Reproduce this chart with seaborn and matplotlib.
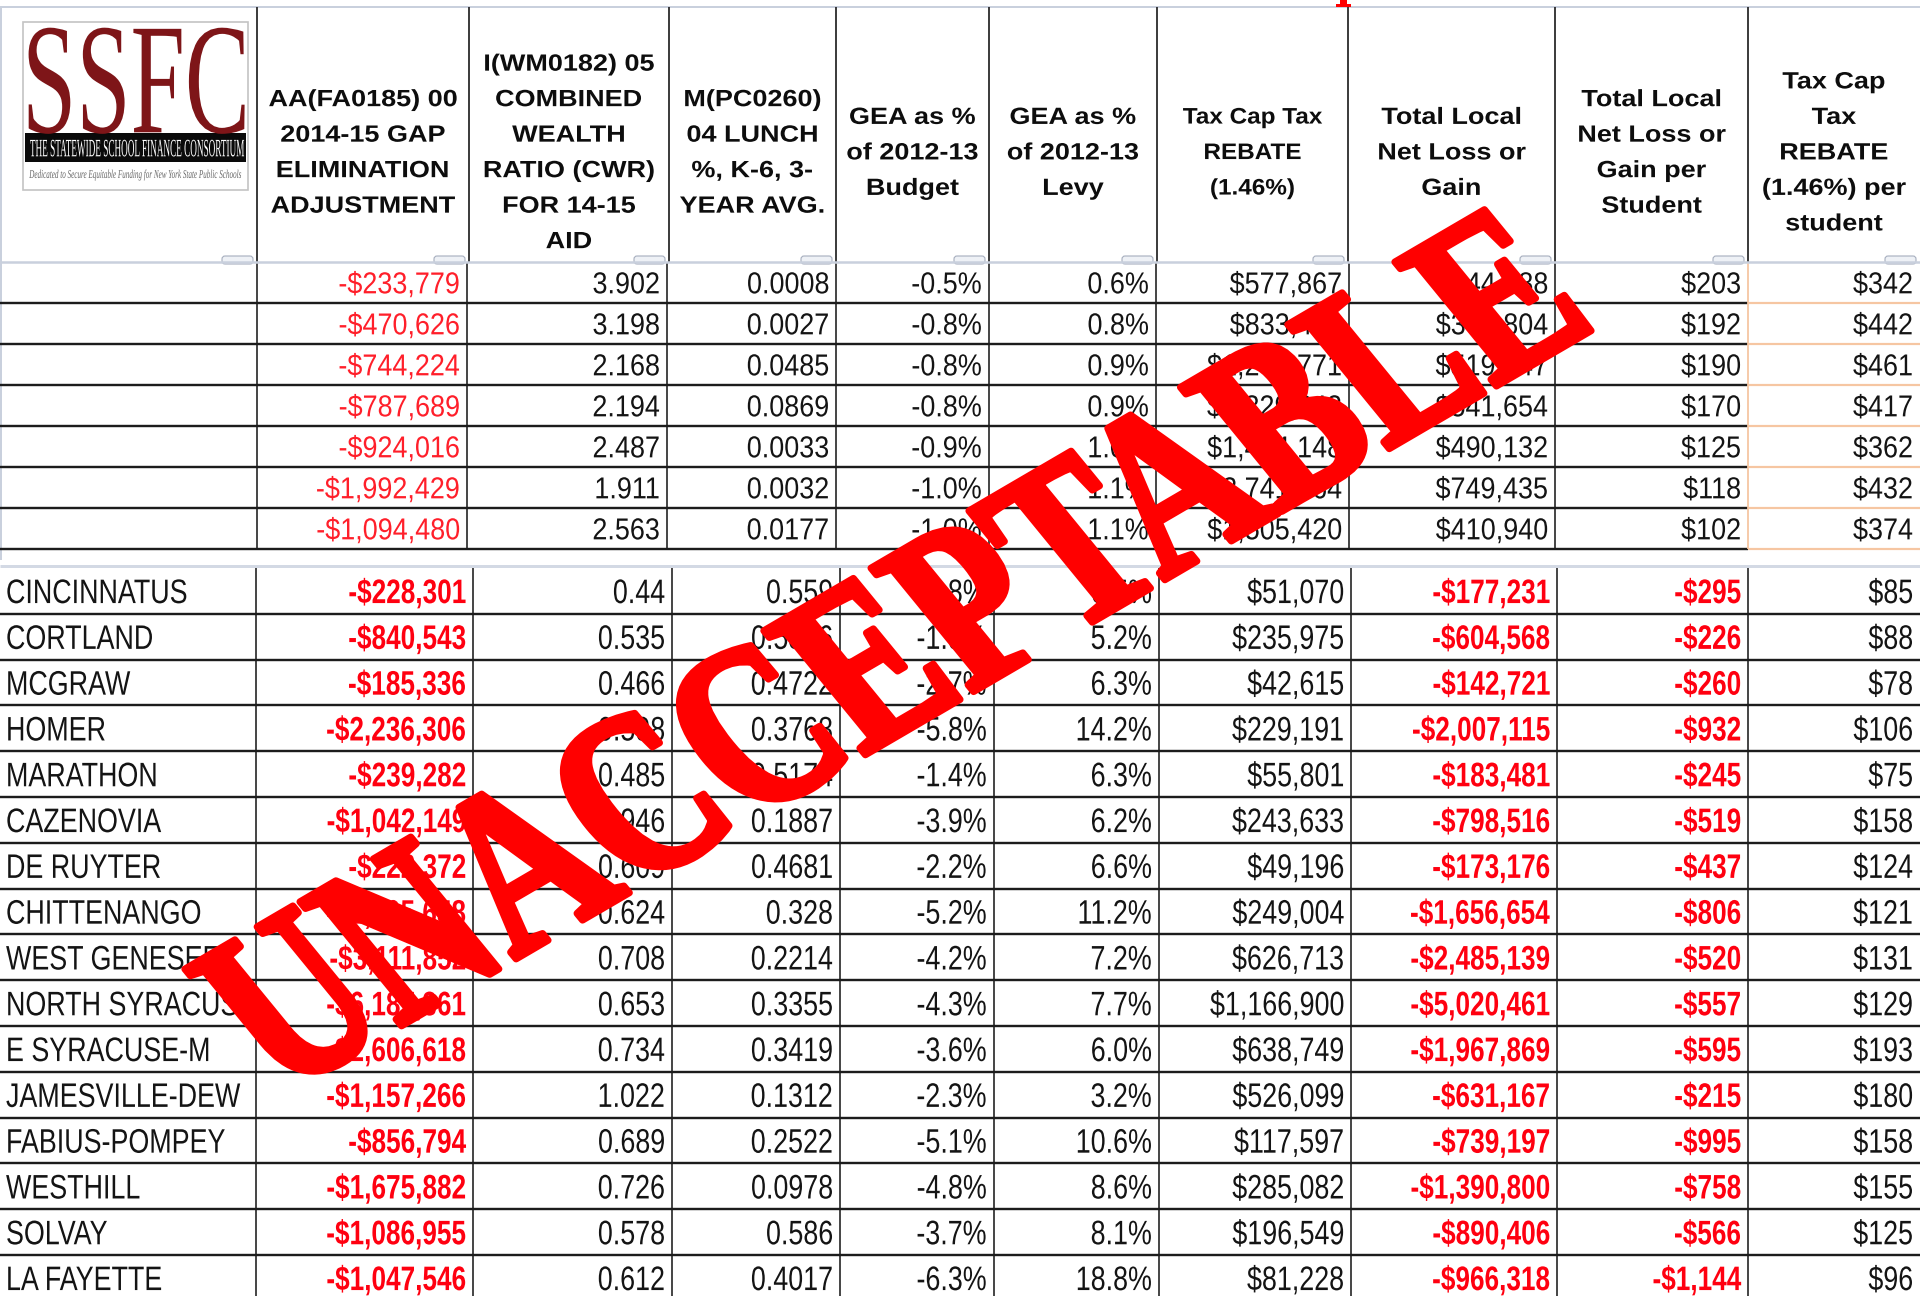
import matplotlib
matplotlib.use("Agg")
import matplotlib.pyplot as plt
import matplotlib.text as mtext
import seaborn as sns
import pandas as pd
from matplotlib.patheffects import AbstractPathEffect
from matplotlib.transforms import Affine2D, Bbox
from matplotlib.patches import Rectangle, FancyBboxPatch
from matplotlib.textpath import TextPath
from matplotlib.font_manager import FontProperties

# ---------------- data ----------------
header_lines = [
    [],
    ["AA(FA0185) 00", "2014-15 GAP", "ELIMINATION", "ADJUSTMENT"],
    ["I(WM0182) 05", "COMBINED", "WEALTH", "RATIO (CWR)", "FOR 14-15", "AID"],
    ["M(PC0260)", "04 LUNCH", "%, K-6, 3-", "YEAR AVG."],
    ["GEA as %", "of 2012-13", "Budget"],
    ["GEA as %", "of 2012-13", "Levy"],
    ["Tax Cap Tax", "REBATE", "(1.46%)"],
    ["Total Local", "Net Loss or", "Gain"],
    ["Total Local", "Net Loss or", "Gain per", "Student"],
    ["Tax Cap", "Tax", "REBATE", "(1.46%) per", "student"],
]

upper_gea = [-233779, -470626, -744224, -787689, -924016, -1992429, -1094480]
upper_cwr = [3.902, 3.198, 2.168, 2.194, 2.487, 1.911, 2.563]
upper_lunch = [0.0008, 0.0027, 0.0485, 0.0869, 0.0033, 0.0032, 0.0177]
upper_budget = [-0.5, -0.8, -0.8, -0.8, -0.9, -1.0, -1.0]
upper_levy = [0.6, 0.8, 0.9, 0.9, 1.0, 1.1, 1.1]
upper_rebate = [577867, 833430, 1263771, 1329343, 1414148, 2741864, 1505420]
upper_net = [344088, 362804, 519547, 541654, 490132, 749435, 410940]
upper_net_ps = [203, 192, 190, 170, 125, 118, 102]
upper_rebate_ps = [342, 442, 461, 417, 362, 432, 374]

districts = ["CINCINNATUS", "CORTLAND", "MCGRAW", "HOMER", "MARATHON", "CAZENOVIA",
             "DE RUYTER", "CHITTENANGO", "WEST GENESEE", "NORTH SYRACUSE",
             "E SYRACUSE-M", "JAMESVILLE-DEW", "FABIUS-POMPEY", "WESTHILL",
             "SOLVAY", "LA FAYETTE"]
lower_gea = [-228301, -840543, -185336, -2236306, -239282, -1042149, -222372, -1905658,
             -3111852, -6187361, -2606618, -1157266, -856794, -1675882, -1086955, -1047546]
lower_cwr = [0.44, 0.535, 0.466, 0.598, 0.485, 0.946, 0.609, 0.624,
             0.708, 0.653, 0.734, 1.022, 0.689, 0.726, 0.578, 0.612]
lower_lunch = [0.559, 0.5366, 0.4722, 0.3768, 0.5174, 0.1887, 0.4681, 0.328,
               0.2214, 0.3355, 0.3419, 0.1312, 0.2522, 0.0978, 0.586, 0.4017]
lower_budget = [-1.8, -1.9, -2.7, -5.8, -1.4, -3.9, -2.2, -5.2,
                -4.2, -4.3, -3.6, -2.3, -5.1, -4.8, -3.7, -6.3]
lower_levy = [6.5, 5.2, 6.3, 14.2, 6.3, 6.2, 6.6, 11.2,
              7.2, 7.7, 6.0, 3.2, 10.6, 8.6, 8.1, 18.8]
lower_rebate = [51070, 235975, 42615, 229191, 55801, 243633, 49196, 249004,
                626713, 1166900, 638749, 526099, 117597, 285082, 196549, 81228]
lower_net = [-177231, -604568, -142721, -2007115, -183481, -798516, -173176, -1656654,
             -2485139, -5020461, -1967869, -631167, -739197, -1390800, -890406, -966318]
lower_net_ps = [-295, -226, -260, -932, -245, -519, -437, -806,
                -520, -557, -595, -215, -995, -758, -566, -1144]
lower_rebate_ps = [85, 88, 78, 106, 75, 158, 124, 121,
                   131, 129, 193, 180, 158, 155, 125, 96]

stamp_text = "UNACCEPTABLE"
logo_title = "SSFC"
logo_band = "THE STATEWIDE SCHOOL FINANCE CONSORTIUM"
logo_tag = "Dedicated to Secure Equitable Funding for New York State Public Schools"


def money(v):
    return f"-${abs(v):,}" if v < 0 else f"${v:,}"


def pct(v):
    return f"{v:.1f}%"


def num(v):
    return f"{v:g}"


upper = pd.DataFrame({
    "gea": [money(v) for v in upper_gea], "cwr": [num(v) for v in upper_cwr],
    "lunch": [num(v) for v in upper_lunch], "budget": [pct(v) for v in upper_budget],
    "levy": [pct(v) for v in upper_levy], "rebate": [money(v) for v in upper_rebate],
    "net": [money(v) for v in upper_net], "net_ps": [money(v) for v in upper_net_ps],
    "rebate_ps": [money(v) for v in upper_rebate_ps]})
lower = pd.DataFrame({
    "name": districts,
    "gea": [money(v) for v in lower_gea], "cwr": [num(v) for v in lower_cwr],
    "lunch": [num(v) for v in lower_lunch], "budget": [pct(v) for v in lower_budget],
    "levy": [pct(v) for v in lower_levy], "rebate": [money(v) for v in lower_rebate],
    "net": [money(v) for v in lower_net], "net_ps": [money(v) for v in lower_net_ps],
    "rebate_ps": [money(v) for v in lower_rebate_ps]})

# ---------------- style / layout ----------------
sns.set_theme(style="white")
plt.rcParams['font.family'] = ['Liberation Sans', 'DejaVu Sans']
SANS = ['Liberation Sans', 'DejaVu Sans']
SERIF = ['Liberation Serif', 'DejaVu Serif']
DPI = 100
W, H = 1920, 1296

fig = plt.figure(figsize=(W / DPI, H / DPI), dpi=DPI, facecolor='white')
ax = fig.add_axes([0, 0, 1, 1])
ax.set_xlim(0, W)
ax.set_ylim(H, 0)
ax.axis('off')


class Stretch(AbstractPathEffect):
    """Scale glyphs about an anchor point (mimics the condensed / stretched type)."""
    def __init__(self, axes, x, y, sx, sy=1.0):
        super().__init__()
        self.axes_, self.x, self.y, self.sx, self.sy = axes, x, y, sx, sy

    def draw_path(self, renderer, gc, tpath, affine, rgbFace=None):
        cx, cy = self.axes_.transData.transform((self.x, self.y))
        t = affine + Affine2D().translate(-cx, -cy).scale(self.sx, self.sy).translate(cx, cy)
        renderer.draw_path(gc, tpath, t, rgbFace)


class SText(mtext.Text):
    """Text whose reported extent follows the glyph stretch."""
    def __init__(self, x, y, s, anchor=(0, 0), sx=1.0, sy=1.0, **kw):
        super().__init__(x, y, s, **kw)
        self._anc, self._sx, self._sy = anchor, sx, sy

    def get_window_extent(self, renderer=None, dpi=None):
        bb = super().get_window_extent(renderer, dpi)
        cx, cy = self.axes.transData.transform(self._anc)
        return Bbox([[cx + (bb.x0 - cx) * self._sx, cy + (bb.y0 - cy) * self._sy],
                     [cx + (bb.x1 - cx) * self._sx, cy + (bb.y1 - cy) * self._sy]])


class Stamp(AbstractPathEffect):
    """Stretch / backslant the glyphs in text space and embolden with a stroke."""
    def __init__(self, center, sx, sy, shear, lw, color):
        super().__init__()
        self.c, self.sx, self.sy, self.shear, self.lw, self.color = center, sx, sy, shear, lw, color

    def draw_path(self, renderer, gc, tpath, affine, rgbFace=None):
        cx, cy = self.c
        local = (Affine2D().translate(-cx, -cy).scale(self.sx, self.sy)
                 .skew_deg(self.shear, 0).translate(cx, cy))
        gc0 = renderer.new_gc()
        gc0.copy_properties(gc)
        gc0.set_linewidth(self.lw)
        gc0.set_foreground(self.color)
        gc0.set_joinstyle('round')
        renderer.draw_path(gc0, tpath, local + affine, rgbFace)
        gc0.restore()


def put(x, yc, s, ev, sx=1.0, ha='right', color='#141414', weight='normal',
        family=SANS, style='normal', cap=0.716, clip=None, z=3):
    """ev: visual em height (px); sx: horizontal scale relative to the font."""
    if sx < 1:
        fpx, kx, ky = ev * sx, 1.0, 1.0 / sx
    else:
        fpx, kx, ky = ev, sx, 1.0
    yb = yc + cap * fpx / 2
    t = SText(x, yb, s, anchor=(x, yc), sx=kx, sy=ky, fontsize=fpx * 72 / DPI, ha=ha,
              va='baseline', color=color, fontweight=weight, family=family,
              fontstyle=style, zorder=z)
    ax.add_artist(t)
    t.set_path_effects([Stretch(ax, x, yc, kx, ky)])
    if clip is not None:
        t.set_clip_path(clip)
    return t


def ink_box(s, size, family, weight='normal', style='normal'):
    fp = FontProperties(family=family, weight=weight, style=style)
    return TextPath((0, 0), s, size=size, prop=fp).get_extents()


def hline(y, x0, x1, color, lw_px, z=2):
    ax.plot([x0, x1], [y, y], color=color, lw=lw_px * 72 / DPI, solid_capstyle='butt', zorder=z)


def vline(x, y0, y1, color, lw_px, z=2):
    ax.plot([x, x], [y0, y1], color=color, lw=lw_px * 72 / DPI, solid_capstyle='butt', zorder=z)


hdr_edges = [0, 257, 469, 669, 836, 989, 1157, 1348, 1555, 1748, 1920]
up_edges = [0, 257, 467, 667, 836, 989, 1156, 1349, 1555, 1748, 1920]
lo_edges = [0, 256, 473, 672, 840, 994, 1159, 1351, 1557, 1748, 1920]
HDR_TOP, HDR_BOT = 7, 262
UP_TOP, UP_H = 262, 41.0
LO_TOP, LO_H = 568, 45.8
LIGHT = '#C9D0DD'
DARK = '#1c1c1c'
ORANGE = '#F6C6A2'
RED_UP = '#FF1F2A'
RED_LO = '#FF0010'

# ---------------- header ----------------
hline(HDR_TOP, 0, W, LIGHT, 2)
vline(1, HDR_TOP, 560, LIGHT, 2)
for x in hdr_edges[1:-1]:
    vline(x, HDR_TOP, HDR_BOT, '#2a2a2a', 1.8)
for x in hdr_edges[1:]:
    ax.add_patch(FancyBboxPatch((x - 35, 256), 31, 8, boxstyle="round,pad=0,rounding_size=3",
                                fc='#EEF1F6', ec='#A6AEBE', lw=0.8, zorder=2))
hline(HDR_BOT, 0, W, LIGHT, 2.5, z=2.5)

pitch = 35.5
for c, lines in enumerate(header_lines):
    if not lines:
        continue
    xc = (hdr_edges[c] + hdr_edges[c + 1]) / 2
    n = len(lines)
    ev, sx = (22.5, 1.08) if c == 6 else (23.5, 1.15)
    for i, s in enumerate(lines):
        yc = 151 + (i - (n - 1) / 2) * pitch
        put(xc, yc, s, ev, sx, ha='center', weight='bold', color='#0d0d0d')

# logo
ax.add_patch(Rectangle((23, 22), 225, 168, fc='white', ec='#C4C4C4', lw=1.2, zorder=2))
ax.add_patch(Rectangle((25, 133), 221, 29, fc='#0a0a0a', ec='none', zorder=2.5))
ev_t = 158
sx_t = 216 / ink_box(logo_title, ev_t, SERIF).width
put(136, 80, logo_title, ev_t, sx_t, ha='center', color='#7E1518', family=SERIF, cap=0.662)
ev_b = 25
sx_b = 214 / ink_box(logo_band, ev_b, SERIF).width
put(136, 148, logo_band, ev_b, sx_b, ha='center', color='white', family=SERIF, cap=0.662)
ev_g = 12
sx_g = 212 / ink_box(logo_tag, ev_g, SERIF, style='italic').width
put(136, 174, logo_tag, ev_g, sx_g, ha='center', color='#666666', family=SERIF,
    style='italic', cap=0.662)

# ---------------- upper block ----------------
n_up = len(upper)
up_bot = UP_TOP + n_up * UP_H
for k in range(1, n_up + 1):
    y = UP_TOP + k * UP_H
    hline(y, 0, 1748, DARK, 2.4)
    hline(y, 1748, W, ORANGE, 2.2)
for x in up_edges[1:-2]:
    vline(x, UP_TOP, up_bot, DARK, 1.6)
vline(up_edges[-2], UP_TOP, up_bot, ORANGE, 1.8)

up_cols = ["gea", "cwr", "lunch", "budget", "levy", "rebate", "net", "net_ps", "rebate_ps"]
for i in range(n_up):
    yc = UP_TOP + (i + 0.5) * UP_H
    for j, col in enumerate(up_cols):
        xr = up_edges[j + 2] - 7
        color = RED_UP if col == "gea" else '#141414'
        put(xr, yc, upper[col][i], 30.3, 0.89, ha='right', color=color)

# ---------------- lower block ----------------
hline(566, 0, W, '#D3D9E4', 3)
n_lo = len(lower)
for k in range(1, n_lo + 1):
    hline(LO_TOP + k * LO_H, 0, W, DARK, 2.4)
for x in lo_edges[1:-1]:
    vline(x, LO_TOP, H, DARK, 1.6)

lo_cols = ["gea", "cwr", "lunch", "budget", "levy", "rebate", "net", "net_ps", "rebate_ps"]
bold_red = {"gea", "net", "net_ps"}
for i in range(n_lo):
    yc = LO_TOP + (i + 0.5) * LO_H
    clip = Rectangle((0, LO_TOP + i * LO_H), lo_edges[1] - 2, LO_H, transform=ax.transData)
    put(6, yc, lower["name"][i], 34.0, 0.79, ha='left', clip=clip)
    for j, col in enumerate(lo_cols):
        xr = lo_edges[j + 2] - 7
        if col in bold_red:
            put(xr, yc, lower[col][i], 34.0, 0.77, ha='right', color=RED_LO, weight='bold')
        else:
            put(xr, yc, lower[col][i], 34.0, 0.79, ha='right')

# ---------------- stamp overlay ----------------
ax.add_patch(Rectangle((1340, 0), 7, 6, fc='#FF0000', ec='none', zorder=9))
ax.add_patch(Rectangle((1336, 4), 15, 3, fc='#FF0000', ec='none', zorder=9))
sb = ink_box(stamp_text, 100, SERIF, weight='bold')
stamp_center = ((sb.x0 + sb.x1) / 2, (sb.y0 + sb.y1) / 2)
st = ax.text(899, 662, stamp_text, rotation=30.3, rotation_mode='anchor', ha='center',
             va='center', fontsize=134, family=SERIF, fontweight='bold', color='#FF0000',
             zorder=10)
st.set_path_effects([Stamp(stamp_center, 1.0, 1.3, -9, 5.0, '#FF0000')])

fig.savefig("out.png", dpi=DPI, facecolor='white')
